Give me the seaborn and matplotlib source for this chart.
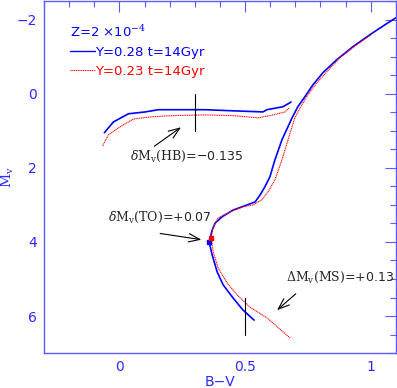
import matplotlib
matplotlib.use("Agg")
import matplotlib.pyplot as plt
import seaborn as sns
import pandas as pd
from matplotlib.ticker import MultipleLocator

# isochrone points (B-V, Mv)
blue_hb_bv = [-0.060, -0.024, 0.036, 0.103, 0.155, 0.341, 0.452, 0.571, 0.587, 0.651, 0.679, 0.683]
blue_hb_mv = [1.05, 0.76, 0.54, 0.49, 0.43, 0.43, 0.46, 0.49, 0.43, 0.35, 0.24, 0.22]
red_hb_bv = [-0.067, -0.044, -0.004, 0.056, 0.131, 0.210, 0.341, 0.452, 0.552, 0.611, 0.659, 0.675]
red_hb_mv = [1.41, 1.11, 0.92, 0.68, 0.62, 0.59, 0.57, 0.59, 0.65, 0.57, 0.49, 0.38]

blue_rgb_bv = [1.100, 1.063, 0.996, 0.929, 0.865, 0.810, 0.770, 0.738, 0.710, 0.687,
               0.647, 0.619, 0.599, 0.579, 0.560, 0.540, 0.508, 0.452, 0.409, 0.381,
               0.369, 0.357, 0.369, 0.389, 0.413, 0.452, 0.492, 0.536]
blue_rgb_mv = [-2.05, -1.89, -1.59, -1.27, -0.92, -0.57, -0.24, 0.08, 0.35, 0.65,
               1.24, 1.78, 2.24, 2.51, 2.73, 2.92, 3.00, 3.14, 3.32, 3.49,
               3.68, 4.00, 4.35, 4.81, 5.16, 5.51, 5.84, 6.11]
red_rgb_bv = [1.000, 0.944, 0.877, 0.825, 0.786, 0.750, 0.726, 0.698, 0.671, 0.647,
              0.619, 0.591, 0.567, 0.532, 0.492, 0.440, 0.393, 0.373, 0.365, 0.373,
              0.393, 0.429, 0.468, 0.520, 0.587, 0.679]
red_rgb_mv = [-1.59, -1.32, -0.97, -0.59, -0.30, 0.03, 0.30, 0.65, 1.24, 1.78,
              2.32, 2.65, 2.86, 3.00, 3.05, 3.19, 3.35, 3.59, 3.89, 4.27,
              4.70, 5.11, 5.43, 5.76, 6.05, 6.59]

# turn-off points
to_bv = {"blue": 0.357, "red": 0.365}
to_mv = {"blue": 4.00, "red": 3.89}

blue_lab = "Y=0.28 t=14Gyr"
red_lab = "Y=0.23 t=14Gyr"
axcol = "#5a5aff"
txtcol = "#2a2aff"

def branch(bv, mv, name):
    return pd.DataFrame({"bv": bv, "mv": mv, "branch": name})

blue = pd.concat([branch(blue_hb_bv, blue_hb_mv, "hb"), branch(blue_rgb_bv, blue_rgb_mv, "rgb")])
red = pd.concat([branch(red_hb_bv, red_hb_mv, "hb"), branch(red_rgb_bv, red_rgb_mv, "rgb")])

sns.set_style("white")
plt.rcParams["mathtext.fontset"] = "dejavuserif"
fig = plt.figure(figsize=(3.97, 3.88), dpi=100)
ax = fig.add_axes([0.111, 0.090, 0.886, 0.907])

sns.lineplot(data=blue, x="bv", y="mv", units="branch", estimator=None, sort=False,
             color="#0000ff", lw=1.2, ax=ax)
sns.lineplot(data=red, x="bv", y="mv", units="branch", estimator=None, sort=False,
             color="#ff0000", lw=0.8, ls=(0, (1, 0.6)), ax=ax)
ax.plot([to_bv["blue"]], [to_mv["blue"]], "s", color="#0000ff", ms=3.5)
ax.plot([to_bv["red"]], [to_mv["red"]], "s", color="#ff0000", ms=3.5)

# legend-like header
ax.plot([], [], color="#0000ff", lw=1.0, label=blue_lab)
ax.plot([], [], color="#ff0000", lw=0.8, ls=(0, (1, 0.6)), label=red_lab)
handles, labels = ax.get_legend_handles_labels()
leg = ax.legend(handles[-2:], labels[-2:], loc="upper left", bbox_to_anchor=(0.074, 0.935),
                frameon=False, fontsize=9.5, handlelength=1.9, handletextpad=0.0,
                borderpad=0, borderaxespad=0, labelspacing=0.45,
                title="Z=2 $\\times$10$^{-4}$", title_fontsize=9.5,
                alignment="left", labelcolor="linecolor")
leg.get_title().set_color("#0000ff")

# offsets marked on the isochrones
ax.plot([0.30, 0.30], [0.0, 1.0], color="black", lw=0.8)
ax.plot([0.50, 0.50], [5.5, 6.5], color="black", lw=0.8)

arw = dict(arrowstyle="->,head_length=0.8,head_width=0.3", color="black", lw=0.8)
ax.annotate("", xy=(0.254, 0.86), xytext=(0.13, 1.46), arrowprops=arw)
ax.annotate("", xy=(0.337, 3.95), xytext=(0.151, 3.76), arrowprops=arw)
ax.annotate("", xy=(0.619, 5.89), xytext=(0.71, 5.35), arrowprops=arw)

ax.text(0.044, 1.70, r"$\delta\mathrm{M_v(HB)}$=−0.135", fontsize=9, va="center")
ax.text(-0.044, 3.35, r"$\delta\mathrm{M_v(TO)}$=+0.07", fontsize=9, va="center")
ax.text(0.663, 4.97, r"$\Delta\mathrm{M_v(MS)}$=+0.13", fontsize=9, va="center")

ax.set_xlim(-0.3, 1.1)
ax.set_ylim(7, -2.5)
ax.xaxis.set_minor_locator(MultipleLocator(0.1))
ax.yaxis.set_major_locator(MultipleLocator(2))
ax.yaxis.set_minor_locator(MultipleLocator(0.5))
ax.set_xticks([0, 0.5, 1])
ax.set_xticklabels(["0", "0.5", "1"])
ax.tick_params(which="both", direction="in", top=True, right=True, colors=axcol,
               labelcolor=txtcol, labelsize=10, width=0.8, pad=5)
ax.tick_params(which="major", length=8)
ax.tick_params(which="minor", length=4.5)
for s in ax.spines.values():
    s.set_color(axcol)
    s.set_linewidth(1.0)
ax.set_xlabel("B−V", color=txtcol, fontsize=10, labelpad=1)
ax.set_ylabel(r"$\mathrm{M_v}$", color=txtcol, fontsize=10)
ax.yaxis.set_label_coords(-0.08, 0.5)

fig.savefig("out.png", dpi=100)
